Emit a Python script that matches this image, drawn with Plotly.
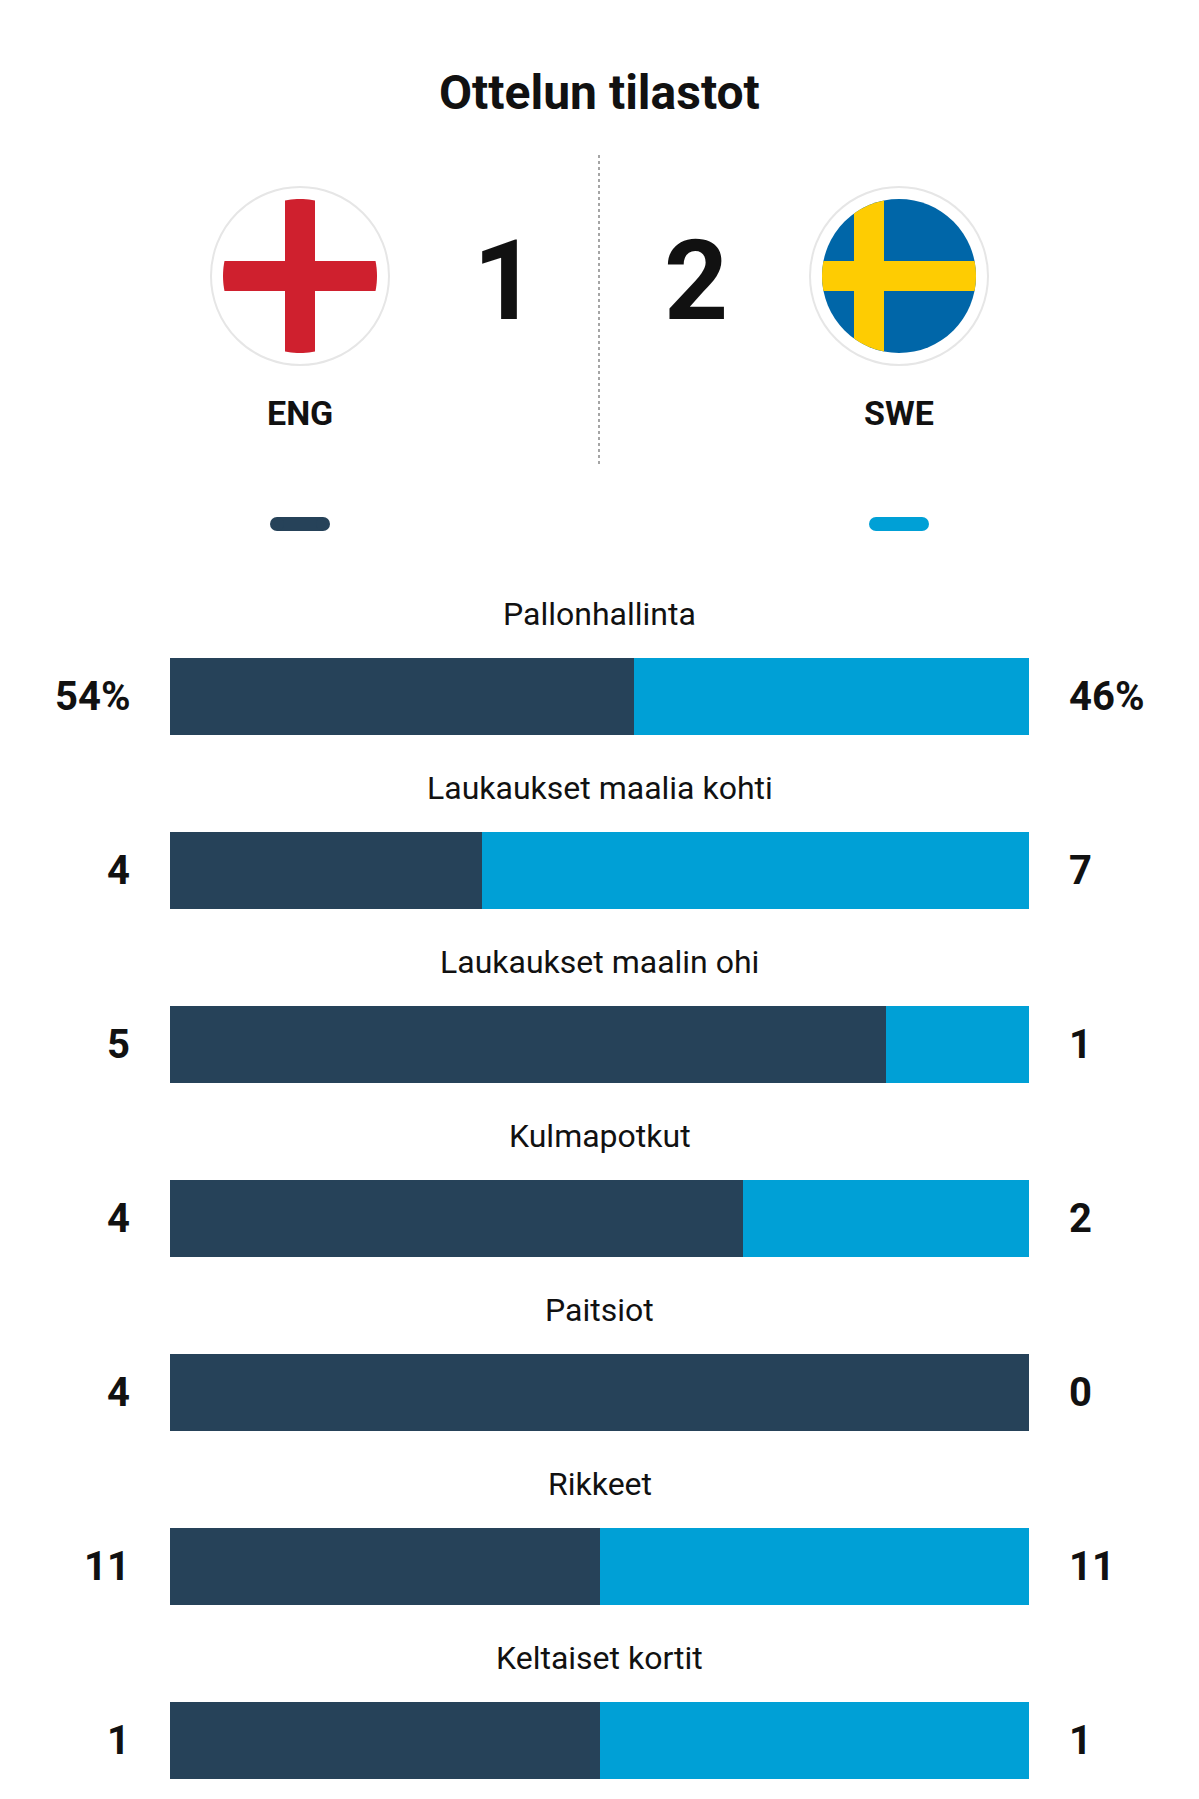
import plotly.graph_objects as go
import math

categories = ["Pallonhallinta", "Laukaukset maalia kohti", "Laukaukset maalin ohi",
              "Kulmapotkut", "Paitsiot", "Rikkeet", "Keltaiset kortit"]
home_vals = [54, 4, 5, 4, 4, 11, 1]
away_vals = [46, 7, 1, 2, 0, 11, 1]
home_labels = ["54%", "4", "5", "4", "4", "11", "1"]
away_labels = ["46%", "7", "1", "2", "0", "11", "1"]
teams = ["ENG", "SWE"]
scores = ["1", "2"]
title = "Ottelun tilastot"

W, H = 1199, 1799
OFF = 8  # browser body margin compensation
DARK, LIGHT = "#264259", "#00a0d6"
FONT = "Roboto"

idx = list(range(len(categories)))
hf = [h / (h + a) for h, a in zip(home_vals, away_vals)]
af = [a / (h + a) for h, a in zip(home_vals, away_vals)]

fig = go.Figure()
fig.add_bar(y=idx, x=hf, orientation="h", marker=dict(color=DARK, line_width=0), width=0.4425,
            hoverinfo="skip")
fig.add_bar(y=idx, x=af, orientation="h", marker=dict(color=LIGHT, line_width=0), width=0.4425,
            hoverinfo="skip")

def px(x): return (x - OFF) / W
def py(y): return 1 - (y - OFF) / H

ann = []
def A(**k):
    k.setdefault("xanchor", "center")
    k.setdefault("yanchor", "middle")
    k.setdefault("showarrow", False)
    ann.append(k)

for i, c in enumerate(categories):
    A(x=0.5 - OFF / W, xref="paper", y=i - 0.47, yref="y", text=c,
      font=dict(size=32, color="#111", family=FONT))
    A(x=px(132), xref="paper", y=i, yref="y", text="<b>%s</b>" % home_labels[i],
      xanchor="right", font=dict(size=40, color="#111", family=FONT))
    A(x=px(1067), xref="paper", y=i, yref="y", text="<b>%s</b>" % away_labels[i],
      xanchor="left", font=dict(size=40, color="#111", family=FONT))

A(x=px(599), xref="paper", y=py(92), yref="paper", text="<b>%s</b>" % title,
  font=dict(size=48, color="#111", family=FONT))
for t, s, cx, sx in zip(teams, scores, [300, 899], [505, 696]):
    A(x=px(cx), xref="paper", y=py(413), yref="paper", text="<b>%s</b>" % t,
      font=dict(size=34, color="#111", family=FONT))
    A(x=px(sx), xref="paper", y=py(280), yref="paper", text="<b>%s</b>" % s,
      font=dict(size=112, color="#111", family=FONT))

shapes = []
def circle(cx, cy, r, fill, line=None):
    shapes.append(dict(type="circle", xref="paper", yref="paper", x0=px(cx - r), x1=px(cx + r),
                       y0=py(cy + r), y1=py(cy - r), fillcolor=fill,
                       line=dict(color=line or fill, width=2 if line else 0)))

def path(pts, fill):
    d = "M " + " L ".join("%f,%f" % (px(x), py(y)) for x, y in pts) + " Z"
    shapes.append(dict(type="path", xref="paper", yref="paper", path=d, fillcolor=fill, line_width=0))

def vbar(cx, cy, r, off, hw, fill):
    pts = []
    xs = [off - hw + k * (2 * hw) / 10 for k in range(11)]
    for x in xs: pts.append((cx + x, cy - math.sqrt(r * r - x * x)))
    for x in reversed(xs): pts.append((cx + x, cy + math.sqrt(r * r - x * x)))
    path(pts, fill)

def hbar(cx, cy, r, off, hh, fill):
    pts = []
    ys = [off - hh + k * (2 * hh) / 10 for k in range(11)]
    for y in ys: pts.append((cx + math.sqrt(r * r - y * y), cy + y))
    for y in reversed(ys): pts.append((cx - math.sqrt(r * r - y * y), cy + y))
    path(pts, fill)

r = 77
circle(300, 276, 89, "white", "#e6e6e6")
circle(300, 276, r, "white")
vbar(300, 276, r, 0, 15, "#cf202e")
hbar(300, 276, r, 0, 15, "#cf202e")
circle(899, 276, 89, "white", "#e6e6e6")
circle(899, 276, r, "#0066a8")
vbar(899, 276, r, -30, 15, "#fecc02")
hbar(899, 276, r, 0, 15, "#fecc02")

shapes.append(dict(type="line", xref="paper", yref="paper", x0=px(599), x1=px(599), y0=py(155),
                   y1=py(465), line=dict(color="#888", width=1.5, dash="dot")))
for cx, col in [(300, DARK), (899, LIGHT)]:
    shapes.append(dict(type="rect", xref="paper", yref="paper", x0=px(cx - 23), x1=px(cx + 23),
                       y0=py(531), y1=py(517), fillcolor=col, line_width=0))
    for ex in (cx - 23, cx + 23):
        circle(ex, 524, 7, col)

fig.update_layout(
    width=W, height=H, margin=dict(l=0, r=0, t=0, b=0), barmode="stack",
    paper_bgcolor="white", plot_bgcolor="white", showlegend=False,
    xaxis=dict(domain=[px(170), px(1029)], range=[0, 1], visible=False, fixedrange=True),
    yaxis=dict(domain=[0, 1], range=[(H + OFF - 696) / 174, -(696 - OFF) / 174],
               visible=False, fixedrange=True),
    annotations=ann, shapes=shapes, bargap=0,
)
fig.write_html("out.html")
